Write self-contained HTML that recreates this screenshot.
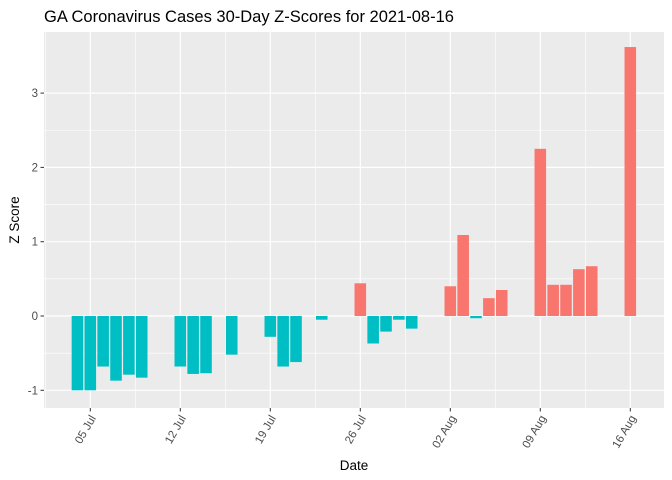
<!DOCTYPE html>
<html><head><meta charset="utf-8">
<style>
body{margin:0;background:#fff;}
svg{display:block;font-family:"Liberation Sans",Arial,sans-serif;}
</style></head>
<body>
<svg id="chart" width="672" height="480" viewBox="0 0 672 480">
<rect x="0" y="0" width="672" height="480" fill="#fff"/>
<text x="44" y="22" font-size="16.5" fill="#000">GA Coronavirus Cases 30-Day Z-Scores for 2021-08-16</text>
<rect x="44" y="32" width="620" height="376" fill="#EBEBEB"/>
<g id="grid"></g>
<g id="bars"></g>
<g id="axes"></g>
<text x="354" y="470" font-size="13.5" text-anchor="middle" fill="#000">Date</text>
<text transform="translate(19,220) rotate(-90)" font-size="13.5" text-anchor="middle" fill="#000">Z Score</text>
</svg>
<script>
// day numbers: July d -> d, August d -> 31 + d
const barDays = [4,5,6,7,8,9,12,13,14,16,19,20,21,23,26,27,28,29,30,33,34,35,36,37,40,41,42,43,44,47];
const zScores = [-1.0,-1.0,-0.68,-0.87,-0.79,-0.83,-0.68,-0.78,-0.77,-0.52,-0.28,-0.68,-0.62,-0.05,0.44,-0.37,-0.21,-0.05,-0.17,0.40,1.09,-0.03,0.24,0.35,2.25,0.42,0.42,0.63,0.67,3.62];
const xTickDays = [5,12,19,26,33,40,47];
const xTickLabels = ["05 Jul","12 Jul","19 Jul","26 Jul","02 Aug","09 Aug","16 Aug"];
const yTicks = [-1,0,1,2,3];
const yTickLabels = ["-1","0","1","2","3"];

const NS="http://www.w3.org/2000/svg";
const dayPx = 90/7;
function xs(d){return 90.3 + (d-5)*dayPx;}
function ys(v){return 316 - v*74.3;}
function mk(tag,attrs,parent){const e=document.createElementNS(NS,tag);for(const k in attrs)e.setAttribute(k,attrs[k]);parent.appendChild(e);return e;}
const grid=document.getElementById('grid'), bars=document.getElementById('bars'), axes=document.getElementById('axes');
for(let i=0;i<yTicks.length;i++){
  const v=yTicks[i]-0.5;
  const l=mk('line',{x1:44,x2:664,y1:ys(v),y2:ys(v),stroke:'#fff','stroke-width':0.6},grid);
  
  
}
for(let i=0;i<=xTickDays.length;i++){
  const d=(xTickDays[0]-3.5)+i*7;
  const X=xs(d); if(X<44||X>664) continue;
  const l=mk('line',{x1:X,x2:X,y1:32,y2:408,stroke:'#fff','stroke-width':0.6},grid);
  
  
}
for(let i=0;i<yTicks.length;i++){
  const Y=ys(yTicks[i]);
  const l=mk('line',{x1:44,x2:664,y1:Y,y2:Y,stroke:'#fff','stroke-width':1.2},grid);
  
  
  const t=mk('line',{x1:40.5,x2:44,y1:Y,y2:Y,stroke:'#333','stroke-width':1},axes);
  
  
  const tx=mk('text',{x:38,y:Y+4,'font-size':11.5,'text-anchor':'end',fill:'#4D4D4D'},axes);
  tx.textContent=yTickLabels[i];
  
  
}
for(let i=0;i<xTickDays.length;i++){
  const X=xs(xTickDays[i]);
  const l=mk('line',{x1:X,x2:X,y1:32,y2:408,stroke:'#fff','stroke-width':1.2},grid);
  
  
  const t=mk('line',{x1:X,x2:X,y1:408,y2:411.5,stroke:'#333','stroke-width':1},axes);
  
  
  const tx=mk('text',{transform:`translate(${X+6},${418}) rotate(-60)`,'font-size':11.5,'text-anchor':'end',fill:'#4D4D4D'},axes);
  tx.textContent=xTickLabels[i];
  
  
}
const bw=dayPx*0.9;
for(let i=0;i<barDays.length;i++){
  const v=zScores[i], X=xs(barDays[i]);
  const y0=ys(0), y1=ys(v);
  const r=mk('rect',{x:X-bw/2,y:Math.min(y0,y1),width:bw,height:Math.abs(y1-y0),fill:v>0?'#F8766D':'#00BFC4'},bars);
  
  
}
</script>
</body></html>
